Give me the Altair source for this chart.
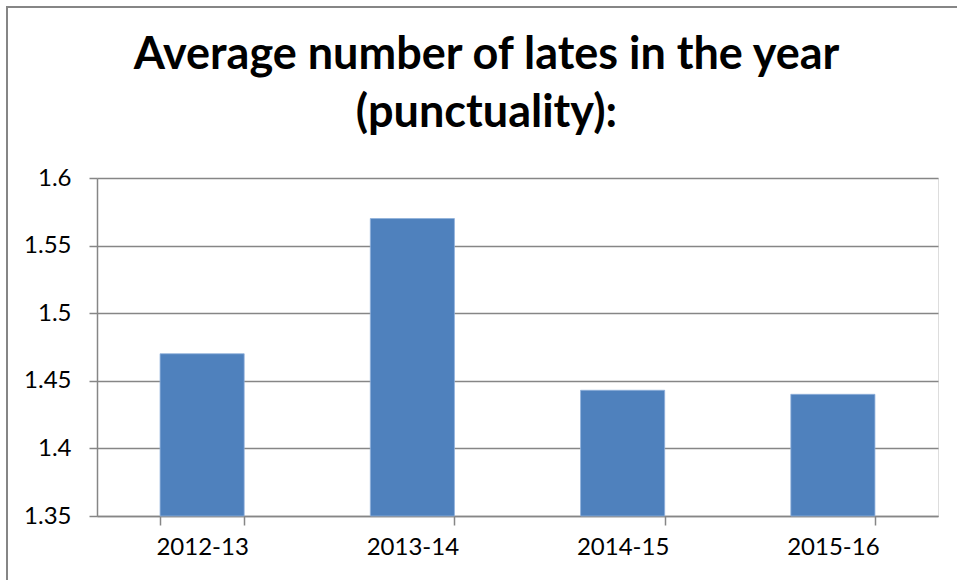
import altair as alt
import pandas as pd

years = ["2012-13", "2013-14", "2014-15", "2015-16"]
lates = [1.47, 1.57, 1.443, 1.44]
y_ticks = [1.35, 1.4, 1.45, 1.5, 1.55, 1.6]

df = pd.DataFrame({"year": years, "lates": lates})

FONT = "Lato"
GRAY = "#868686"

bars = alt.Chart(df).mark_bar(color="#4F81BD", stroke="#8FB0DA", strokeWidth=0.8).encode(
    x=alt.X("year:N", sort=years, title=None,
            scale=alt.Scale(paddingInner=0.6, paddingOuter=0.3),
            axis=alt.Axis(labelAngle=0, labelFont=FONT, labelFontSize=24, labelColor="#000000",
                          labelPadding=10, tickBand="extent", tickSize=9, tickColor=GRAY,
                          tickWidth=1.5, domainColor=GRAY, domainWidth=1.5, grid=False)),
    y=alt.Y("lates:Q", title=None,
            scale=alt.Scale(domain=[1.35, 1.6], zero=False, clamp=True),
            axis=alt.Axis(values=y_ticks, labelFont=FONT, labelFontSize=24, labelColor="#000000",
                          labelPadding=18, tickSize=8, tickColor=GRAY, tickWidth=1.5,
                          domainColor=GRAY, domainWidth=1.5, gridColor=GRAY, gridWidth=1.5,
                          labelExpr="format(datum.value, '.3~f')")),
)

frame = alt.Chart(df).mark_rect(fill="transparent", stroke=GRAY, strokeWidth=2).encode(
    x=alt.value(-90), x2=alt.value(869), y=alt.value(-171), y2=alt.value(410)
)

chart = alt.layer(bars, frame).properties(
    width=841,
    height=338,
    autosize=alt.AutoSizeParams(type="none"),
    title=alt.TitleParams(
        text=["Average number of lates in the year", "(punctuality):"],
        font=FONT, fontSize=45, fontWeight="bold", color="#000000",
        anchor="middle", lineHeight=58, offset=-130, dx=-31,
    ),
    padding={"left": 97, "top": 178, "right": 19, "bottom": 64},
).configure_view(stroke=None).configure(background="white")

chart.save("out.html", embed_options={"renderer": "svg", "actions": False})
